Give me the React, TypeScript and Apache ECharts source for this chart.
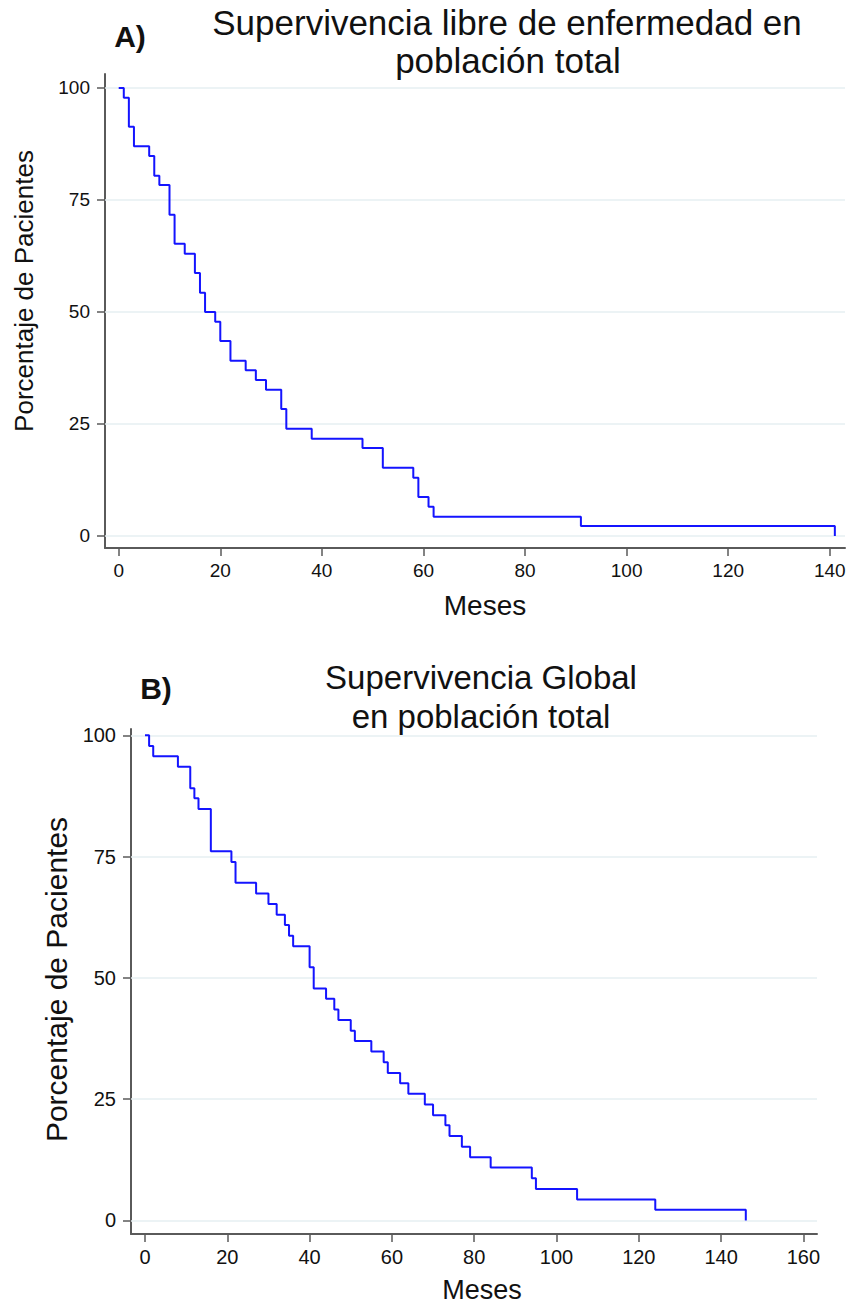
import React, { useEffect, useRef } from "react";
import * as echarts from "echarts";

// Chart A: disease-free survival (months, % patients)
const timesA = [0, 1, 2, 3, 6, 7, 8, 10, 11, 13, 15, 16, 17, 19, 20, 22, 25, 27, 29, 32, 33, 38, 48, 52, 58, 59, 61, 62, 91, 141];
const survA = [100, 97.8, 91.3, 87.0, 84.8, 80.4, 78.3, 71.7, 65.2, 63.0, 58.7, 54.3, 50.0, 47.8, 43.5, 39.1, 37.0, 34.8, 32.6, 28.3, 23.9, 21.7, 19.6, 15.2, 13.0, 8.7, 6.5, 4.3, 2.2, 0];

// Chart B: overall survival
const timesB = [0, 1, 2, 8, 11, 12, 13, 16, 21, 22, 27, 30, 32, 34, 35, 36, 40, 41, 44, 46, 47, 50, 51, 55, 58, 59, 62, 64, 68, 70, 73, 74, 77, 79, 84, 94, 95, 105, 124, 146];
const survB = [100, 97.8, 95.7, 93.5, 89.1, 87.0, 84.8, 76.1, 73.9, 69.6, 67.4, 65.2, 63.0, 60.9, 58.7, 56.5, 52.2, 47.8, 45.7, 43.5, 41.3, 39.1, 37.0, 34.8, 32.6, 30.4, 28.3, 26.1, 23.9, 21.7, 19.6, 17.4, 15.2, 13.0, 10.9, 8.7, 6.5, 4.3, 2.2, 0];

const yTicks = [0, 25, 50, 75, 100];
const xTicksA = [0, 20, 40, 60, 80, 100, 120, 140];
const xTicksB = [0, 20, 40, 60, 80, 100, 120, 140, 160];

const titleA = ["Supervivencia libre de enfermedad en", "población total"];
const titleB = ["Supervivencia Global", "en población total"];
const xName = "Meses";
const yName = "Porcentaje de Pacientes";

const FONT = "'Liberation Sans', Arial, sans-serif";
const AXIS_COLOR = "#5a5a5a";
const GRID_COLOR = "#e6eff2";

function xAxisCfg(gridIndex: number, min: number, max: number, ticks: number[], fs: number, gap: number, nfs: number, shift: number) {
  return {
    type: "value",
    gridIndex,
    min,
    max,
    position: "bottom",
    name: xName,
    nameLocation: "middle",
    nameGap: gap,
    nameTextStyle: { fontFamily: FONT, fontSize: nfs, color: "#111", padding: [0, 0, 0, shift * 2] },
    axisLine: { show: true, onZero: false, lineStyle: { color: AXIS_COLOR, width: 2 } },
    axisTick: { show: true, length: 8, customValues: ticks, lineStyle: { color: AXIS_COLOR, width: 1.5 } },
    axisLabel: { customValues: ticks, margin: 13, fontFamily: FONT, fontSize: fs, color: "#111" },
    splitLine: { show: false },
  };
}

function yAxisCfg(gridIndex: number, min: number, max: number, fs: number, gap: number, nfs: number, shift: number) {
  return {
    type: "value",
    gridIndex,
    min,
    max,
    position: "left",
    name: yName,
    nameLocation: "middle",
    nameGap: gap,
    nameRotate: 90,
    nameTextStyle: { fontFamily: FONT, fontSize: nfs, color: "#111", padding: [0, 0, 0, shift * 2] },
    axisLine: { show: true, onZero: false, lineStyle: { color: AXIS_COLOR, width: 2 } },
    axisTick: { show: true, length: 8, customValues: yTicks, lineStyle: { color: AXIS_COLOR, width: 1.5 } },
    axisLabel: { customValues: yTicks, margin: 15, fontFamily: FONT, fontSize: fs, color: "#111" },
    splitLine: { show: false },
  };
}

function seriesCfg(idx: number, times: number[], surv: number[]) {
  return {
    type: "line",
    xAxisIndex: idx,
    yAxisIndex: idx,
    step: "end",
    symbol: "none",
    data: times.map((t, i) => [t, surv[i]]),
    lineStyle: { color: "#1414ff", width: 2 },
    z: 5,
    markLine: {
      silent: true,
      symbol: "none",
      label: { show: false },
      lineStyle: { color: GRID_COLOR, width: 1.5, type: "solid" },
      data: yTicks.map((v) => ({ yAxis: v })),
      z: 1,
    },
  };
}

export default function App() {
  const ref = useRef<HTMLDivElement>(null);
  useEffect(() => {
    if (!ref.current) return;
    const chart = echarts.init(ref.current, undefined, { renderer: "svg" });
    chart.setOption({
      animation: false,
      backgroundColor: "#ffffff",
      grid: [
        { left: 105, top: 74, right: 6, bottom: 757 },
        { left: 131, top: 729, right: 34, bottom: 71 },
      ],
      xAxis: [
        xAxisCfg(0, -2.7, 143, xTicksA, 19, 43, 28, 10),
        xAxisCfg(1, -3.4, 163.3, xTicksB, 20, 42, 27, 8),
      ],
      yAxis: [
        yAxisCfg(0, -2.7, 103.1, 19, 68, 26, 20),
        yAxisCfg(1, -2.8, 101.3, 20, 53, 30, 2),
      ],
      series: [seriesCfg(0, timesA, survA), seriesCfg(1, timesB, survB)],
      graphic: [
        { type: "text", x: 130, y: 36, style: { text: "A)", font: `bold 30px ${FONT}`, fill: "#111", align: "center", verticalAlign: "middle" } },
        { type: "text", x: 507, y: 22, style: { text: titleA[0], font: `35px ${FONT}`, fill: "#111", align: "center", verticalAlign: "middle" } },
        { type: "text", x: 508, y: 60, style: { text: titleA[1], font: `35px ${FONT}`, fill: "#111", align: "center", verticalAlign: "middle" } },
        { type: "text", x: 156, y: 688, style: { text: "B)", font: `bold 30px ${FONT}`, fill: "#111", align: "center", verticalAlign: "middle" } },
        { type: "text", x: 481, y: 677, style: { text: titleB[0], font: `33px ${FONT}`, fill: "#111", align: "center", verticalAlign: "middle" } },
        { type: "text", x: 481, y: 716, style: { text: titleB[1], font: `33px ${FONT}`, fill: "#111", align: "center", verticalAlign: "middle" } },
      ],
    });
    return () => chart.dispose();
  }, []);
  return <div ref={ref} style={{ position: "absolute", left: 0, top: 0, width: 851, height: 1305 }} />;
}
